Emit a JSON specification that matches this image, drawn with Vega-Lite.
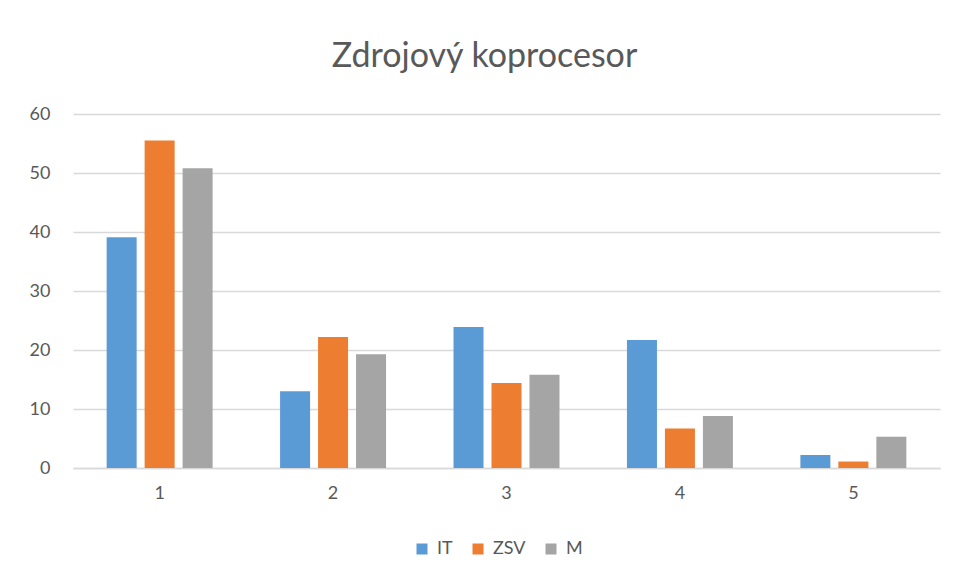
{
  "$schema": "https://vega.github.io/schema/vega-lite/v6.json",
  "autosize": "none",
  "width": 867,
  "height": 354,
  "padding": {"left": 73, "top": 114, "right": 17, "bottom": 112},
  "background": "white",
  "title": {
    "text": "Zdrojový koprocesor",
    "font": "Lato",
    "fontSize": 34,
    "fontWeight": "normal",
    "color": "#595959",
    "anchor": "middle",
    "baseline": "alphabetic",
    "offset": 45,
    "dx": -22,
    "dy": 41
  },
  "data": {
    "values": [
      {"skupina": "1", "obor": "IT", "hodnota": 39.1},
      {"skupina": "1", "obor": "ZSV", "hodnota": 55.5},
      {"skupina": "1", "obor": "M", "hodnota": 50.8},
      {"skupina": "2", "obor": "IT", "hodnota": 13.0},
      {"skupina": "2", "obor": "ZSV", "hodnota": 22.2},
      {"skupina": "2", "obor": "M", "hodnota": 19.3},
      {"skupina": "3", "obor": "IT", "hodnota": 23.9},
      {"skupina": "3", "obor": "ZSV", "hodnota": 14.4},
      {"skupina": "3", "obor": "M", "hodnota": 15.8},
      {"skupina": "4", "obor": "IT", "hodnota": 21.7},
      {"skupina": "4", "obor": "ZSV", "hodnota": 6.7},
      {"skupina": "4", "obor": "M", "hodnota": 8.8},
      {"skupina": "5", "obor": "IT", "hodnota": 2.2},
      {"skupina": "5", "obor": "ZSV", "hodnota": 1.1},
      {"skupina": "5", "obor": "M", "hodnota": 5.3}
    ]
  },
  "mark": {"type": "bar"},
  "encoding": {
    "x": {
      "field": "skupina",
      "type": "nominal",
      "scale": {"paddingInner": 0.389, "paddingOuter": 0.194},
      "axis": {
        "title": null,
        "labelAngle": 0,
        "ticks": false,
        "domainColor": "#d9d9d9",
        "domainWidth": 1.5,
        "labelFont": "Lato",
        "labelFontSize": 18,
        "labelColor": "#595959",
        "labelPadding": 16,
        "grid": false
      }
    },
    "xOffset": {
      "field": "obor",
      "type": "nominal",
      "sort": ["IT", "ZSV", "M"],
      "scale": {"paddingInner": 0.21, "paddingOuter": 0}
    },
    "y": {
      "field": "hodnota",
      "type": "quantitative",
      "scale": {"domain": [0, 60]},
      "axis": {
        "title": null,
        "values": [0, 10, 20, 30, 40, 50, 60],
        "labelOverlap": false,
        "domain": false,
        "ticks": false,
        "gridColor": "#d9d9d9",
        "gridWidth": 1.5,
        "labelFont": "Lato",
        "labelFontSize": 18,
        "labelColor": "#595959",
        "labelPadding": 23
      }
    },
    "color": {
      "field": "obor",
      "type": "nominal",
      "sort": ["IT", "ZSV", "M"],
      "scale": {"domain": ["IT", "ZSV", "M"], "range": ["#5B9BD5", "#ED7D31", "#A5A5A5"]},
      "legend": {
        "title": null,
        "orient": "none",
        "direction": "horizontal",
        "legendX": 340,
        "legendY": 426,
        "symbolType": "square",
        "symbolSize": 121,
        "symbolStrokeWidth": 0,
        "labelFont": "Lato",
        "labelFontSize": 18,
        "labelColor": "#595959",
        "columnPadding": 16,
        "labelOffset": 6
      }
    }
  },
  "config": {
    "view": {"stroke": null}
  }
}
